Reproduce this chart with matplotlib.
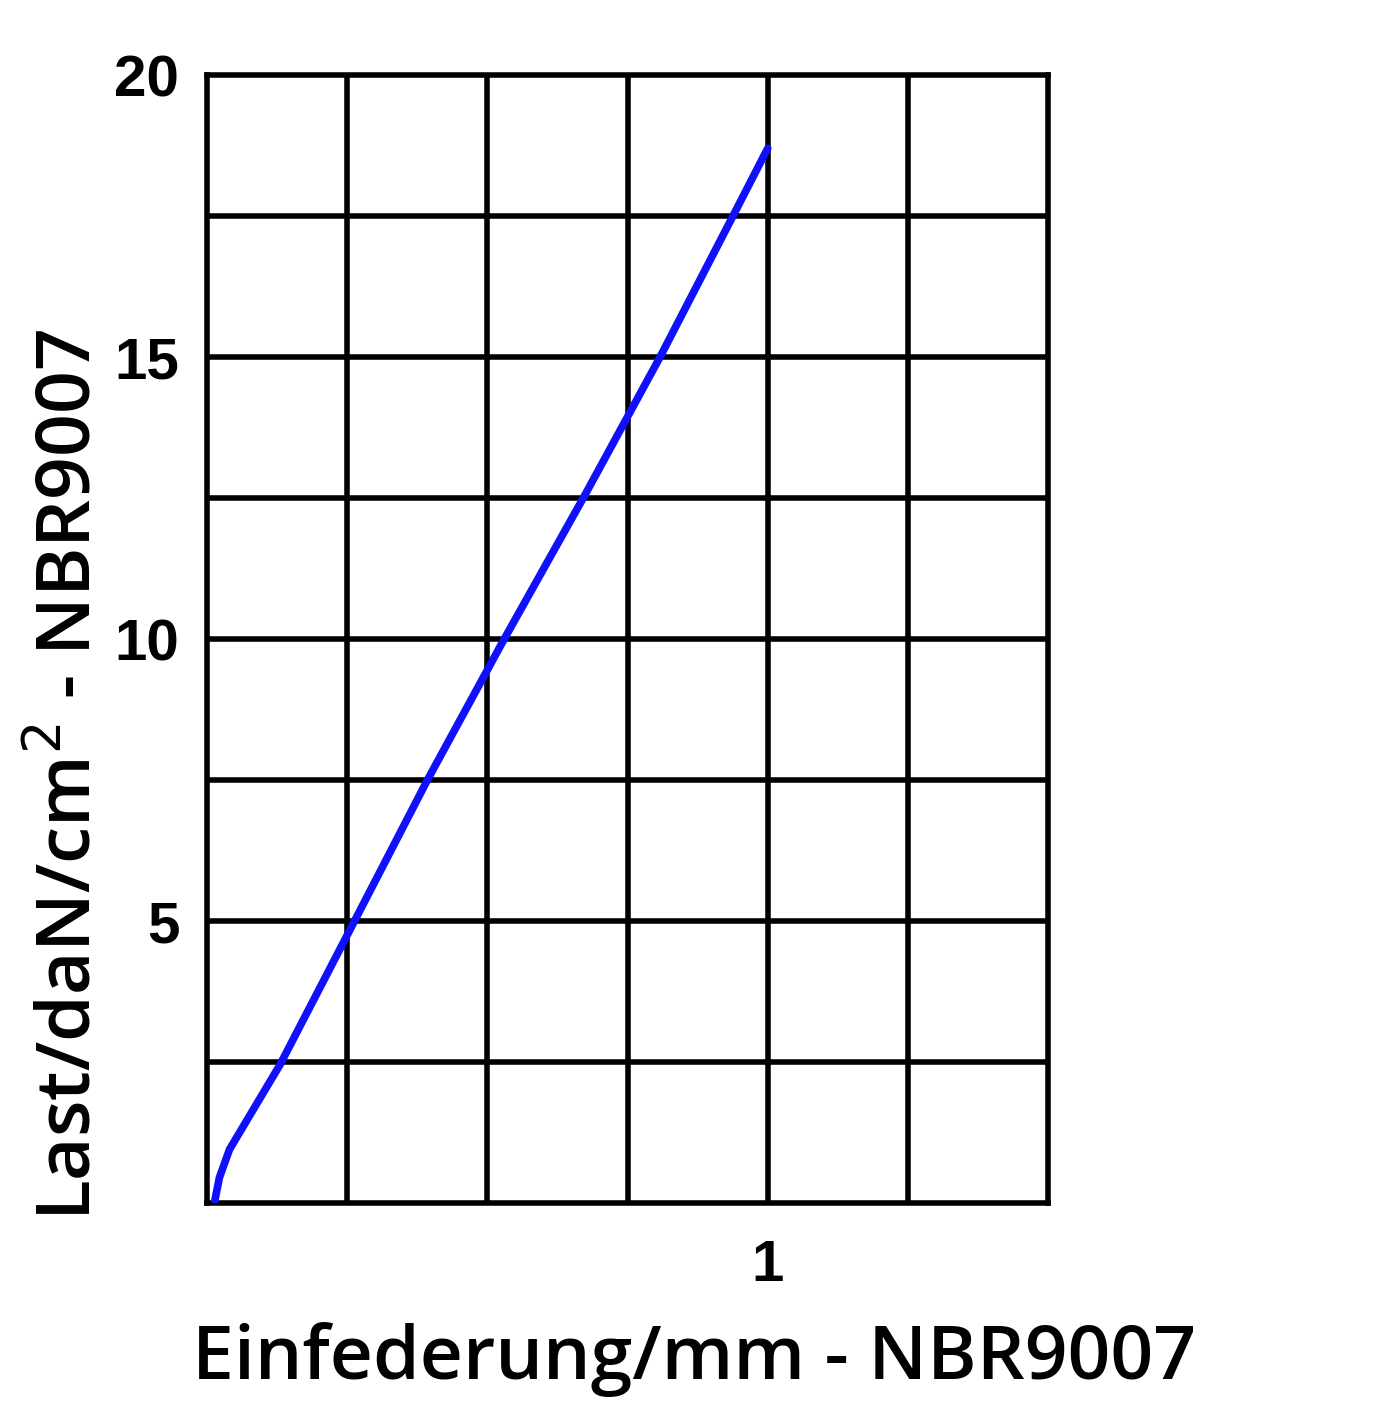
import numpy as np
import matplotlib
matplotlib.use('Agg')
import matplotlib.pyplot as plt

# Einfederung (mm) vs Last (daN/cm^2)
defl = [0.014, 0.022, 0.04, 0.13, 0.263, 0.393, 0.53, 0.671, 0.808, 0.938, 1.0]
load = [0.05, 0.45, 0.95, 2.45, 5.0, 7.5, 10.0, 12.5, 15.0, 17.5, 18.7]

x_grid = [0.25, 0.5, 0.75, 1.0, 1.25]
y_grid = [2.5, 5, 7.5, 10, 12.5, 15, 17.5]
y_ticks = [5, 10, 15, 20]
y_ticklabels = ["5", "10", "15", "20"]
x_ticks = [1.0]
x_ticklabels = ["1"]

fig = plt.figure(figsize=(14, 14.18), dpi=100)
ax = fig.add_axes([0.1479, 0.1516, 0.6007, 0.7955])

ax.set_xlim(0, 1.5)
ax.set_ylim(0, 20)

for xv in x_grid:
    ax.axvline(xv, color="black", linewidth=4.0, zorder=1)
for yv in y_grid:
    ax.axhline(yv, color="black", linewidth=4.0, zorder=1)
for s in ax.spines.values():
    s.set_linewidth(4.0)
    s.set_color("black")

ax.plot(defl, load, color="#1010ff", linewidth=5.5, solid_capstyle="round",
        solid_joinstyle="round", zorder=3)

ax.set_yticks(y_ticks)
ax.set_yticklabels(y_ticklabels, fontfamily="Liberation Sans", fontweight="bold", fontsize=42)
ax.set_xticks(x_ticks)
ax.set_xticklabels(x_ticklabels, fontfamily="Liberation Sans", fontweight="bold", fontsize=42)
ax.tick_params(axis="y", length=0, pad=20)
ax.tick_params(axis="x", length=0, pad=26)

fig.text(0.496, 0.041, "Einfederung/mm - NBR9007", ha="center", va="center",
         fontfamily="Open Sans", fontweight="semibold", fontsize=54)
fig.text(0.051, 0.4535, "Last/daN/cm$^{2}$ - NBR9007", ha="center", va="center",
         rotation=90, fontfamily="Open Sans", fontweight="semibold", fontsize=54)

fig.savefig("out.png", dpi=100)
